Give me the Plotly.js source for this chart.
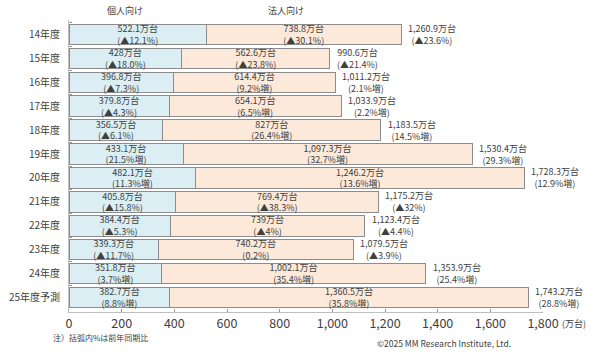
<!DOCTYPE html>
<html><head><meta charset="utf-8">
<script src="https://cdn.plot.ly/plotly-3.0.1.min.js"></script>
<style>html,body{margin:0;padding:0;background:#fff}#c{width:600px;height:354px}</style>
</head><body><div id="c"></div>
<script>
const categories = ["14年度","15年度","16年度","17年度","18年度","19年度","20年度","21年度","22年度","23年度","24年度","25年度予測"];
const individual = [522.1,428,396.8,379.8,356.5,433.1,482.1,405.8,384.4,339.3,351.8,382.7];
const corporate = [738.8,562.6,614.4,654.1,827,1097.3,1246.2,769.4,739,740.2,1002.1,1360.5];
const total = [1260.9,990.6,1011.2,1033.9,1183.5,1530.4,1728.3,1175.2,1123.4,1079.5,1353.9,1743.2];
const individualPct = ["▲12.1%","▲18.0%","▲7.3%","▲4.3%","▲6.1%","21.5%増","11.3%増","▲15.8%","▲5.3%","▲11.7%","3.7%増","8.8%増"];
const corporatePct = ["▲30.1%","▲23.8%","9.2%増","6.5%増","26.4%増","32.7%増","13.6%増","▲38.3%","▲4%","0.2%","35.4%増","35.8%増"];
const totalPct = ["▲23.6%","▲21.4%","2.1%増","2.2%増","14.5%増","29.3%増","12.9%増","▲32%","▲4.4%","▲3.9%","25.4%増","28.8%増"];
const tickVals = [0,200,400,600,800,1000,1200,1400,1600,1800];

const F = '"Noto Sans CJK JP","Noto Sans",sans-serif';
const C = '#404040';
const fmt = v => v.toLocaleString('en-US',{maximumFractionDigits:1}) + '万台';
const lbl = (vals,pcts) => vals.map((v,i)=>fmt(v)+'<br>('+pcts[i]+')');

const common = {type:'bar',orientation:'h',y:categories,textposition:'inside',insidetextanchor:'middle',
  constraintext:'none',textfont:{family:F,size:9,color:C},hoverinfo:'none'};
const traces = [
  Object.assign({},common,{name:'個人向け',x:individual,text:lbl(individual,individualPct),
    marker:{color:'#DAEEF3',line:{color:'#8c8c8c',width:1}}}),
  Object.assign({},common,{name:'法人向け',x:corporate,text:lbl(corporate,corporatePct),
    marker:{color:'#FDE9D9',line:{color:'#8c8c8c',width:1}}})
];
const ph = 354-20-42, pw = 600-69-57;
const px = x => (x-69)/pw, py = y => (312-y)/ph;
const ann = total.map((t,i)=>({x:t,y:categories[i],xref:'x',yref:'y',text:fmt(t)+'<br>('+totalPct[i]+')',
  showarrow:false,xanchor:'left',xshift:5,align:'center',font:{family:F,size:9,color:C}}));
ann.push({x:px(125),y:py(10),xref:'paper',yref:'paper',xanchor:'center',yanchor:'middle',text:'個人向け',showarrow:false,font:{family:F,size:9,color:C}});
ann.push({x:px(286),y:py(10),xref:'paper',yref:'paper',xanchor:'center',yanchor:'middle',text:'法人向け',showarrow:false,font:{family:F,size:9,color:C}});
ann.push({x:px(560),y:py(323),xref:'paper',yref:'paper',xanchor:'left',yanchor:'middle',text:'(万台)',showarrow:false,font:{family:F,size:9,color:C}});
ann.push({x:px(100),y:py(337),xref:'paper',yref:'paper',xanchor:'center',yanchor:'middle',text:'注）括弧内%は前年同期比',showarrow:false,font:{family:F,size:8,color:C}});
ann.push({x:px(444),y:py(343),xref:'paper',yref:'paper',xanchor:'center',yanchor:'middle',text:'©2025 MM Research Institute, Ltd.',showarrow:false,font:{family:F,size:8.5,color:C}});
const layout = {
  width:600,height:354,margin:{l:69,r:57,t:20,b:42},barmode:'stack',bargap:0.14,showlegend:false,
  paper_bgcolor:'#fff',plot_bgcolor:'#fff',font:{family:F,color:C},
  xaxis:{range:[0,1800],tickvals:tickVals,ticktext:tickVals.map(v=>v.toLocaleString('en-US')),
    showgrid:false,zeroline:false,showline:true,linecolor:'#bfbfbf',ticks:'inside',ticklen:3,tickcolor:'#999',
    tickfont:{family:F,size:12.5,color:C}},
  yaxis:{autorange:'reversed',showgrid:false,showline:true,linecolor:'#bfbfbf',ticks:'inside',ticklen:3,
    tickcolor:'#999',tickson:'boundaries',tickfont:{family:F,size:10,color:C},ticklabelstandoff:6},
  annotations:ann
};
Plotly.newPlot('c',traces,layout,{staticPlot:true});
</script></body></html>
